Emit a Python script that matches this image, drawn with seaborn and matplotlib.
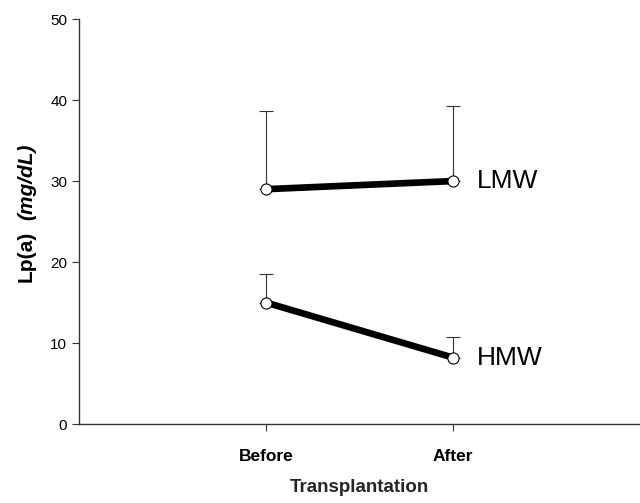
import numpy as np
import pandas as pd
import matplotlib
matplotlib.use('Agg')
import matplotlib.pyplot as plt
import seaborn as sns

# Values
phases = ['Before', 'After']
groups = ['LMW', 'HMW']
lmw_mean = [29.0, 30.0]
lmw_sd = [9.7, 9.3]
hmw_mean = [15.0, 8.2]
hmw_sd = [3.5, 2.5]

sns.set_style('ticks')
plt.rcParams['font.family'] = ['Liberation Sans', 'DejaVu Sans']
plt.rcParams['text.color'] = 'black'

pos = list(range(len(phases)))
df = pd.DataFrame({
    'pos': pos * 2,
    'value': lmw_mean + hmw_mean,
    'group': [groups[0]] * len(phases) + [groups[1]] * len(phases),
})

fig = plt.figure(figsize=(6.4, 5.03), dpi=100)
ax = fig.add_axes([0.1234, 0.157, 0.8766, 0.805])

# upward-only error bars, drawn underneath
for means, sds in [(lmw_mean, lmw_sd), (hmw_mean, hmw_sd)]:
    ax.errorbar(pos, means, yerr=[np.zeros(len(sds)), sds], fmt='none',
                ecolor='#333333', elinewidth=0.8, capsize=5, capthick=0.8, zorder=1)

sns.lineplot(data=df, x='pos', y='value', hue='group', palette=['black', 'black'],
             linewidth=4.8, marker='o', markersize=8, markerfacecolor='white',
             markeredgecolor='black', markeredgewidth=0.8, legend=False, ax=ax, zorder=2)

# group labels next to the last point
for name, means in [(groups[0], lmw_mean), (groups[1], hmw_mean)]:
    ax.text(pos[-1] + 0.13, means[-1], name, fontsize=19, va='center', ha='left')

ax.set_xlim(-1, 2)
ax.set_ylim(0, 50)
ax.set_xticks(pos)
ax.set_xticklabels(phases, fontsize=12.5, fontweight='bold')
ax.set_yticks(range(0, 51, 10))
ax.tick_params(axis='y', labelsize=11, length=5, width=0.8, colors='#333333', labelcolor='black')
ax.tick_params(axis='x', length=5, width=0.8, colors='#333333', labelcolor='black', pad=13)
ax.set_xlabel('Transplantation', fontsize=13.5, fontweight='bold', labelpad=11)
ax.set_ylabel('')

# y label: upright part plus bold italic unit, sharing one baseline
t1 = fig.text(0.05, 0.44, 'Lp(a)', rotation=90, rotation_mode='anchor',
              ha='left', va='baseline', fontsize=15, fontweight='bold')
fig.canvas.draw()
bb = t1.get_window_extent()
y2 = (bb.y1 + 10) / fig.bbox.height
fig.text(0.05, y2, '(mg/dL)', rotation=90, rotation_mode='anchor',
         ha='left', va='baseline', fontsize=15, fontweight='bold', fontstyle='italic')

sns.despine(ax=ax)
for s in ['left', 'bottom']:
    ax.spines[s].set_color('#333333')
    ax.spines[s].set_linewidth(1.0)

fig.savefig('out.png', dpi=100)
